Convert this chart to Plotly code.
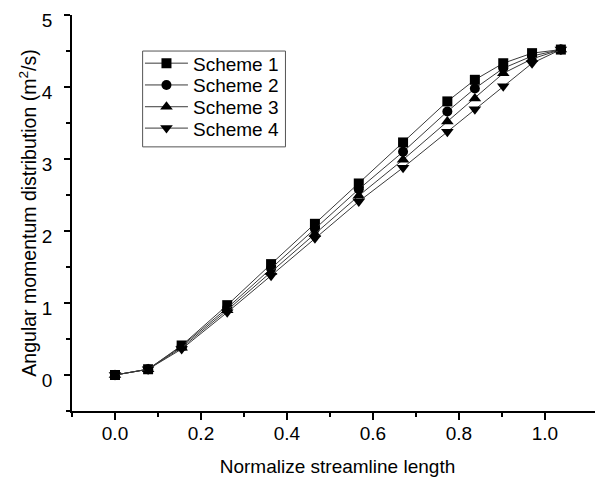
import plotly.graph_objects as go

x_vals = [0, 0.077, 0.155, 0.261, 0.363, 0.465, 0.567, 0.67, 0.773, 0.837, 0.903, 0.97, 1.037]
scheme1 = [0, 0.08, 0.41, 0.97, 1.54, 2.10, 2.66, 3.23, 3.80, 4.10, 4.33, 4.47, 4.52]
scheme2 = [0, 0.08, 0.40, 0.93, 1.48, 2.03, 2.58, 3.10, 3.66, 3.98, 4.26, 4.43, 4.52]
scheme3 = [0, 0.08, 0.38, 0.90, 1.43, 1.96, 2.49, 2.99, 3.52, 3.84, 4.19, 4.39, 4.52]
scheme4 = [0, 0.08, 0.36, 0.87, 1.38, 1.90, 2.41, 2.88, 3.38, 3.69, 4.01, 4.33, 4.52]
names = ["Scheme 1", "Scheme 2", "Scheme 3", "Scheme 4"]
symbols = ["square", "circle", "triangle-up", "triangle-down"]
sizes = [10, 10, 11, 11]

FONT = "Arial, Liberation Sans, sans-serif"
legend_ids = ["legend", "legend2", "legend3", "legend4"]
legend_y = [0.878, 0.823, 0.768, 0.714]

fig = go.Figure()
for name, ys, sym, sz, lid in zip(names, [scheme1, scheme2, scheme3, scheme4], symbols, sizes, legend_ids):
    fig.add_trace(go.Scatter(
        x=x_vals, y=ys, name=name, mode="lines+markers", legend=lid,
        line=dict(color="#3a3a3a", width=1),
        marker=dict(symbol=sym, size=sz, color="black", line=dict(width=0)),
    ))

legend_layout = {}
for lid, ly in zip(legend_ids, legend_y):
    legend_layout[lid] = dict(
        x=0.128, y=ly, xanchor="left", yanchor="middle",
        borderwidth=0, bgcolor="rgba(0,0,0,0)",
        font=dict(family=FONT, size=19, color="black"),
        itemwidth=43,
    )

fig.update_layout(
    width=595, height=474,
    margin=dict(l=64, r=0, t=7, b=71, autoexpand=False),
    paper_bgcolor="white", plot_bgcolor="white",
    font=dict(family=FONT, size=19, color="black"),
    xaxis=dict(
        range=[-0.1, 1.135], showgrid=False, zeroline=False, automargin=False,
        showline=True, linecolor="black", linewidth=1.5,
        ticks="outside", ticklen=7, tickwidth=1.5, tickcolor="black",
        tickvals=[0, 0.2, 0.4, 0.6, 0.8, 1.0], ticktext=["0.0", "0.2", "0.4", "0.6", "0.8", "1.0"],
        minor=dict(tickvals=[-0.1, 0.1, 0.3, 0.5, 0.7, 0.9], ticklen=4, tickwidth=1.5, tickcolor="black", ticks="outside"),
        ticklabelstandoff=-3, ticklabeloverflow="allow",
        title=dict(text="Normalize streamline length", standoff=17, font=dict(size=19)),
    ),
    yaxis=dict(
        range=[-0.5, 5], showgrid=False, zeroline=False, automargin=False,
        showline=True, linecolor="black", linewidth=1.5,
        ticks="outside", ticklen=6, tickwidth=1.5, tickcolor="black",
        tickvals=[0, 1, 2, 3, 4, 5],
        minor=dict(tickvals=[-0.5, 0.5, 1.5, 2.5, 3.5, 4.5], ticklen=4, tickwidth=1.5, tickcolor="black", ticks="outside"),
        ticklabelstandoff=8, ticklabeloverflow="allow", ticklabelshift=5,
        title=dict(text="Angular momentum distribution (m<sup>2</sup>/s)", standoff=0, font=dict(size=19.5)),
    ),
    shapes=[dict(type="rect", xref="paper", yref="paper",
                 x0=0.133, x1=0.402, y0=0.667, y1=0.909,
                 line=dict(color="#555555", width=1), fillcolor="rgba(0,0,0,0)", layer="below")],
    showlegend=True,
    **legend_layout,
)

fig.write_html("out.html")
